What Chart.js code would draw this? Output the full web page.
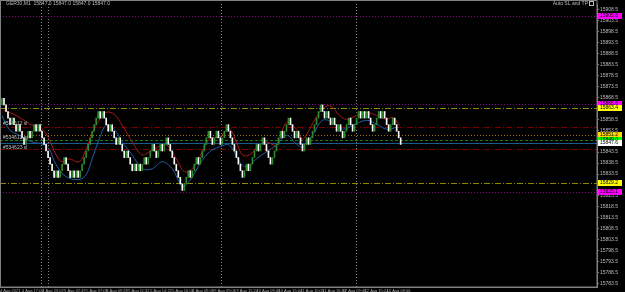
<!DOCTYPE html>
<html>
<head>
<title>GER30,M1 renko</title>
<script src="https://cdn.jsdelivr.net/npm/chart.js@4.4.0/dist/chart.umd.min.js"></script>
<style>
html, body { margin: 0; padding: 0; background: #000; overflow: hidden; }
</style>
</head>
<body>
<canvas id="myChart" width="625" height="292"></canvas>
<script>
// renko brick closes, one per bar (brick = 3 points)
var firstOpen = 15865;
var closes = [
  15868,15865,15862,15859,15856,15859,15856,15853,15856,15853,
  15850,15847,15850,15853,15850,15853,15856,15853,15856,15853,
  15850,15847,15844,15841,15838,15835,15832,15835,15832,15835,
  15838,15841,15838,15835,15832,15835,15832,15835,15832,15835,
  15838,15841,15844,15847,15850,15853,15856,15859,15862,15859,
  15862,15859,15856,15853,15856,15853,15850,15847,15850,15847,
  15844,15841,15844,15841,15838,15835,15838,15835,15838,15835,
  15838,15841,15838,15841,15844,15847,15844,15841,15844,15847,
  15844,15847,15850,15847,15844,15841,15838,15835,15832,15829,
  15826,15829,15832,15835,15832,15835,15838,15841,15838,15841,
  15844,15847,15850,15853,15850,15847,15850,15853,15850,15847,
  15850,15853,15856,15853,15850,15847,15844,15841,15838,15835,
  15832,15835,15838,15835,15838,15841,15844,15847,15844,15847,
  15850,15847,15844,15841,15838,15841,15844,15847,15850,15853,
  15850,15853,15856,15859,15856,15853,15850,15853,15850,15847,
  15844,15847,15850,15847,15850,15853,15856,15859,15862,15865,
  15862,15859,15862,15859,15856,15859,15856,15853,15856,15853,
  15850,15853,15856,15859,15856,15853,15856,15859,15862,15859,
  15862,15859,15862,15859,15856,15853,15856,15859,15862,15859,
  15862,15859,15856,15853,15856,15859,15856,15853,15850,15847
];

// red and blue indicator lines (bar index, price)
var redIdx = [1,7,15,20,23.5,27,30,33.5,38.5,42,47,52,56,60,65,70,75,82,87,91,95,100,103.5,108.5,113.5,117,120,123.5,128.5,132,137,142,147,150,153.5,158.5,163.5,168.5,172,177,182,187,192,195,198.5];
var redVal = [15862.5,15860.2,15855.7,15853.9,15849.4,15842.2,15839.1,15840.4,15839.1,15844.9,15855.7,15861.6,15860.7,15855.7,15848.1,15842.2,15844.5,15846.7,15840.4,15834.6,15835.9,15843.6,15849.4,15850.3,15853.9,15848.1,15842.2,15842.2,15846.7,15848.1,15846.7,15857.1,15853.9,15849.4,15853.9,15861.6,15864.7,15860.2,15858.4,15860.2,15861.6,15860.2,15858.4,15859.3,15855.7];
var blueIdx = [0,3.5,8.5,15,20,23.5,27,32,38.5,42,45,48.5,52,56,60,65,70,75,80,85,90,93.5,98.5,103.5,108.5,113.5,118.5,122,127,132,137,142,147,150,155,160,165,170,175,182,187,192,197];
var blueVal = [15860.2,15853.9,15851.2,15848.1,15847.2,15844.9,15837.7,15832.3,15831.0,15833.2,15840.4,15849.4,15855.7,15853.9,15848.1,15842.2,15835.9,15835.9,15839.1,15835.9,15827.8,15830.1,15837.7,15843.6,15845.8,15846.7,15839.1,15836.8,15840.4,15843.6,15846.7,15851.2,15847.2,15845.8,15851.2,15858.0,15857.1,15853.9,15855.7,15858.0,15856.2,15853.9,15854.8];

// price axis labels
var yTicks = [15908.5,15903.5,15898.5,15893.5,15888.5,15883.5,15878.5,15873.5,15868.5,15863.5,
  15858.5,15853.5,15848.5,15843.5,15838.5,15833.5,15828.5,15823.5,15818.5,15813.5,
  15808.5,15803.5,15798.5,15793.5,15788.5,15783.5];

// time axis labels
var timeBars = [-1,10,20,31,42,52,63,74,85,95,106,117,127,138,149,160,170,181,192];
var timeLabels = ['4 Aug 2021','4 Aug 17:00','4 Aug 23:02','5 Aug 02:49','5 Aug 07:08','5 Aug 09:28',
  '5 Aug 11:32','5 Aug 14:22','5 Aug 16:02','6 Aug 09:08','9 Aug 09:06','9 Aug 15:24','10 Aug 09:40',
  '10 Aug 15:04','11 Aug 10:05','11 Aug 16:43','12 Aug 09:46','12 Aug 15:24','13 Aug 09:06'];

// horizontal objects
var levelPrices = [15905.6,15865.6,15863.4,15854.8,15851.2,15849.0,15847.6,15844.9,15829.2,15825.1];
var levelKinds = ['magenta','magenta','yellow','sl','orange','green','blue','sl','yellow','magenta'];
var separatorBars = [19.5, 23, 109.5, 176.5];
var orderTags = ['#534612 sl', '#534612 tp', '#534623 sl'];
var orderTagPrices = [15856.2, 15849.9, 15845.4];

var styles = {
  magenta: { color: '#8a008a', dash: [1, 2], box: '#ff00ff' },
  yellow:  { color: '#8c8c00', dash: [6, 2, 1, 2], box: '#ffff00' },
  sl:      { color: '#7a0000', dash: [6, 2, 1, 2], box: null },
  orange:  { color: '#9a7008', dash: [1, 2], box: '#ffd700' },
  green:   { color: '#1a7a1a', dash: [3, 2], box: '#00ff00' },
  blue:    { color: '#1c5590', dash: [], box: '#ffffff' }
};

var bricks = closes.map(function (c, i) {
  var o = i === 0 ? firstOpen : closes[i - 1];
  return { x: i, y: [o, c] };
});
var red = redIdx.map(function (x, i) { return { x: x, y: redVal[i] }; });
var blue = blueIdx.map(function (x, i) { return { x: x, y: blueVal[i] }; });

var axisFont = { family: 'Liberation Sans, Arial, sans-serif', size: 5 };
var timeFont = { family: 'Liberation Sans Narrow, Liberation Sans, Arial, sans-serif', size: 4 };

var mtPlugin = {
  id: 'mt',
  beforeDraw: function (c) {
    var ctx = c.ctx;
    ctx.save();
    ctx.fillStyle = '#000';
    ctx.fillRect(0, 0, c.width, c.height);
    ctx.restore();
  },
  beforeDatasetsDraw: function (c) {
    var ctx = c.ctx, a = c.chartArea, xs = c.scales.x, ys = c.scales.y;
    ctx.save();
    ctx.lineWidth = 1;
    // period separators
    ctx.strokeStyle = '#8a8a8a';
    ctx.setLineDash([1, 2]);
    separatorBars.forEach(function (b) {
      var px = Math.round(xs.getPixelForValue(b)) + 0.5;
      ctx.beginPath(); ctx.moveTo(px, a.top); ctx.lineTo(px, a.bottom); ctx.stroke();
    });
    // horizontal levels
    levelPrices.forEach(function (p, i) {
      var s = styles[levelKinds[i]];
      var py = Math.round(ys.getPixelForValue(p)) + 0.5;
      ctx.strokeStyle = s.color;
      ctx.setLineDash(s.dash);
      ctx.beginPath(); ctx.moveTo(a.left, py); ctx.lineTo(a.right, py); ctx.stroke();
    });
    ctx.restore();
  },
  afterDraw: function (c) {
    var ctx = c.ctx, a = c.chartArea, ys = c.scales.y;
    ctx.save();
    // frame
    ctx.strokeStyle = '#808080';
    ctx.lineWidth = 1;
    ctx.strokeRect(0.5, 0.5, a.right - 0.5, a.bottom - 0.5);
    ctx.font = '5px Liberation Sans, Arial, sans-serif';
    ctx.textBaseline = 'middle';
    // price boxes on the axis
    levelPrices.forEach(function (p, i) {
      var s = styles[levelKinds[i]];
      if (!s.box) return;
      var py = Math.round(ys.getPixelForValue(p));
      ctx.fillStyle = s.box;
      ctx.fillRect(a.right + 1, py - 3, 24, 6);
      ctx.fillStyle = '#000';
      ctx.textAlign = 'left';
      ctx.fillText(p.toFixed(1), a.right + 3, py);
    });
    // order tags
    ctx.fillStyle = '#bcbcbc';
    orderTags.forEach(function (t, i) {
      ctx.fillText(t, 3, Math.round(ys.getPixelForValue(orderTagPrices[i])));
    });
    // header texts
    ctx.fillText('GER30,M1  15847.0 15847.0 15847.0 15847.0', 6, 4);
    ctx.textAlign = 'right';
    ctx.fillText('Auto SL and TP', a.right - 9, 4);
    ctx.strokeStyle = '#bcbcbc';
    ctx.strokeRect(a.right - 7.5, 1.5, 4, 4);
    ctx.restore();
  }
};

var myChart = new Chart(document.getElementById('myChart'), {
  data: {
    datasets: [
      {
        type: 'line', data: red, borderColor: '#b01818', borderWidth: 1,
        pointRadius: 0, tension: 0.35, order: 2
      },
      {
        type: 'line', data: blue, borderColor: '#1f5fa8', borderWidth: 1,
        pointRadius: 0, tension: 0.35, order: 3
      },
      {
        type: 'bar', data: bricks, barThickness: 1, order: 1,
        backgroundColor: function (ctx) {
          var r = ctx.raw;
          return r && r.y[1] > r.y[0] ? '#2f8a2f' : '#ffffff';
        }
      }
    ]
  },
  options: {
    responsive: false,
    animation: false,
    layout: { padding: 0 },
    plugins: { legend: { display: false }, tooltip: { enabled: false } },
    scales: {
      x: {
        type: 'linear', min: -1, max: 297, offset: false,
        afterFit: function (s) { s.height = 5; },
        afterBuildTicks: function (s) { s.ticks = timeBars.map(function (v) { return { value: v }; }); },
        grid: { drawOnChartArea: false, tickLength: 1, color: '#808080' },
        border: { color: '#808080' },
        ticks: {
          autoSkip: false, maxRotation: 0, align: 'start', padding: 0,
          color: '#a8a8a8', font: timeFont,
          callback: function (v, i) { return timeLabels[i]; }
        }
      },
      y: {
        position: 'right', min: 15782, max: 15911,
        afterFit: function (s) { s.width = 28; },
        afterBuildTicks: function (s) { s.ticks = yTicks.map(function (v) { return { value: v }; }); },
        grid: { drawOnChartArea: false, tickLength: 2, color: '#808080' },
        border: { color: '#808080' },
        ticks: {
          padding: 1, color: '#bcbcbc', font: axisFont,
          callback: function (v) { return v.toFixed(1); }
        }
      }
    }
  },
  plugins: [mtPlugin]
});
</script>
</body>
</html>
